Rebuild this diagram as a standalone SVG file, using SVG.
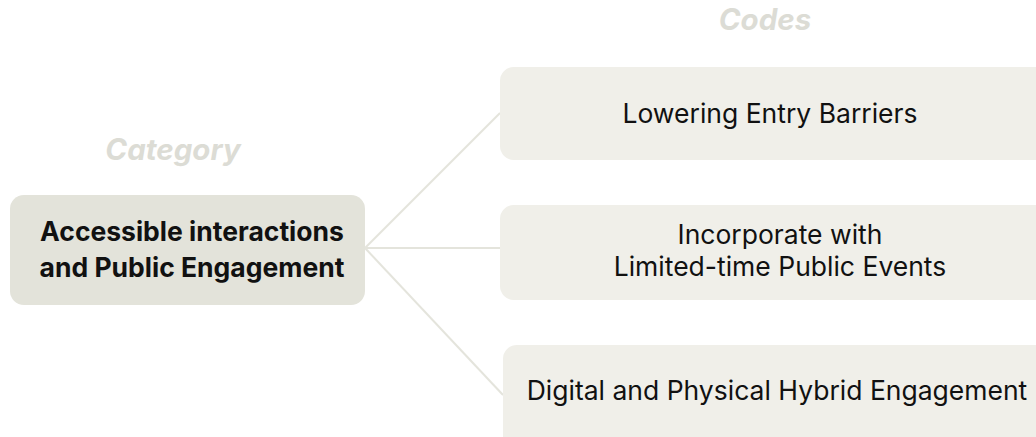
<svg xmlns="http://www.w3.org/2000/svg" width="1036" height="437" viewBox="0 0 1036 437">
  <style>
    .heading { font-family: Inter, "Liberation Sans", sans-serif; font-size: 29.5px; font-weight: 700; font-style: italic; fill: #dcdcd5; text-anchor: middle; }
    .cat-box { fill: #e3e3da; }
    .code-box { fill: #f0efe9; }
    .cat-text { font-family: Inter, "Liberation Sans", sans-serif; font-size: 26.5px; font-weight: 700; fill: #111111; text-anchor: middle; }
    .code-text { font-family: Inter, "Liberation Sans", sans-serif; font-size: 26.5px; font-weight: 400; fill: #111111; text-anchor: middle; }
    .link { stroke: #e4e4dc; stroke-width: 2; fill: none; }
  </style>
  <rect width="1036" height="437" fill="#ffffff"/>

  <text class="heading" x="173" y="160">Category</text>
  <text class="heading" x="765" y="30">Codes</text>

  <g id="connectors">
    <line class="link" x1="365" y1="248" x2="500" y2="113"/>
    <line class="link" x1="365" y1="248" x2="500" y2="248"/>
    <line class="link" x1="365" y1="248" x2="503" y2="395"/>
  </g>

  <g id="category">
    <rect class="cat-box" x="10" y="195" width="355" height="110" rx="14"/>
    <text class="cat-text" x="192" y="241">Accessible interactions</text>
    <text class="cat-text" x="192" y="277">and Public Engagement</text>
  </g>

  <g id="code-lowering">
    <rect class="code-box" x="500" y="67" width="550" height="93" rx="14"/>
    <text class="code-text" x="770" y="123">Lowering Entry Barriers</text>
  </g>

  <g id="code-events">
    <rect class="code-box" x="500" y="205" width="550" height="95" rx="14"/>
    <text class="code-text" x="780" y="244">Incorporate with</text>
    <text class="code-text" x="780" y="276">Limited-time Public Events</text>
  </g>

  <g id="code-hybrid">
    <rect class="code-box" x="503" y="345" width="550" height="110" rx="14"/>
    <text class="code-text" x="777" y="400">Digital and Physical Hybrid Engagement</text>
  </g>
</svg>
